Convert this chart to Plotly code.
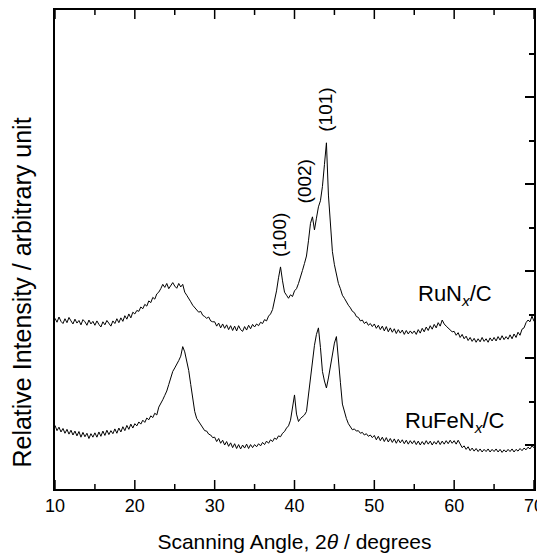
import numpy as np
import plotly.graph_objects as go

# Scan grid (2theta, degrees), 0.25 deg step from 10 to 70
two_theta = np.round(np.arange(10.0, 70.0001, 0.25), 2).tolist()

# RuNx/C (upper pattern, offset)
runx_c = [
    3.92, 3.83, 3.95, 3.85, 3.80, 3.91, 3.82, 3.94, 3.86, 3.79, 3.90, 3.81, 3.87, 3.77, 3.89, 3.84, 3.76, 3.88, 3.79, 3.85,
    3.76, 3.86, 3.78, 3.72, 3.84, 3.77, 3.87, 3.79, 3.74, 3.86, 3.80, 3.91, 3.82, 3.93, 3.85, 3.98, 3.90, 4.02, 3.93, 4.06,
    4.02, 4.10, 4.08, 4.18, 4.14, 4.24, 4.20, 4.32, 4.28, 4.40, 4.36, 4.48, 4.52, 4.60, 4.70, 4.63, 4.72, 4.60, 4.68, 4.74,
    4.66, 4.61, 4.72, 4.64, 4.70, 4.52, 4.45, 4.36, 4.30, 4.22, 4.17, 4.12, 4.06, 4.08, 3.99, 3.96, 3.92, 3.95, 3.86, 3.84,
    3.84, 3.74, 3.81, 3.70, 3.79, 3.69, 3.77, 3.66, 3.75, 3.64, 3.74, 3.63, 3.75, 3.66, 3.62, 3.73, 3.65, 3.76, 3.68, 3.78,
    3.72, 3.79, 3.75, 3.83, 3.80, 3.89, 3.86, 3.97, 4.02, 4.12, 4.30, 4.55, 4.85, 5.10, 4.78, 4.52, 4.45, 4.38, 4.46, 4.42,
    4.55, 4.60, 4.72, 4.85, 5.02, 5.18, 5.35, 5.70, 6.10, 6.25, 5.95, 6.22, 6.48, 6.62, 6.95, 7.45, 7.95, 6.75, 5.95, 5.45,
    5.15, 4.95, 4.72, 4.60, 4.45, 4.38, 4.28, 4.22, 4.16, 4.08, 4.05, 3.96, 3.94, 3.86, 3.88, 3.80, 3.84, 3.76, 3.80, 3.73,
    3.79, 3.69, 3.76, 3.66, 3.74, 3.63, 3.73, 3.61, 3.70, 3.60, 3.68, 3.57, 3.66, 3.58, 3.65, 3.55, 3.64, 3.56, 3.63, 3.57,
    3.63, 3.55, 3.66, 3.58, 3.69, 3.61, 3.72, 3.64, 3.75, 3.67, 3.78, 3.70, 3.82, 3.74, 3.88, 3.79, 3.74, 3.69, 3.66, 3.61,
    3.62, 3.53, 3.59, 3.48, 3.55, 3.45, 3.51, 3.41, 3.48, 3.39, 3.46, 3.37, 3.45, 3.38, 3.48, 3.39, 3.45, 3.37, 3.47, 3.40,
    3.48, 3.40, 3.50, 3.42, 3.52, 3.43, 3.50, 3.44, 3.54, 3.45, 3.56, 3.48, 3.60, 3.53, 3.67, 3.70, 3.82, 3.88, 3.84, 3.97,
    3.85,
]

# RuFeNx/C (lower pattern)
rufenx_c = [
    1.46, 1.34, 1.42, 1.31, 1.39, 1.28, 1.37, 1.26, 1.35, 1.24, 1.33, 1.22, 1.32, 1.19, 1.30, 1.20, 1.28, 1.16, 1.27, 1.19,
    1.29, 1.19, 1.31, 1.21, 1.33, 1.23, 1.35, 1.25, 1.34, 1.27, 1.38, 1.28, 1.40, 1.31, 1.43, 1.34, 1.46, 1.37, 1.49, 1.40,
    1.50, 1.45, 1.54, 1.49, 1.58, 1.53, 1.63, 1.59, 1.68, 1.64, 1.74, 1.70, 1.88, 1.95, 2.05, 2.15, 2.25, 2.40, 2.55, 2.70,
    2.78, 2.85, 2.95, 3.05, 3.27, 3.15, 2.95, 2.72, 2.40, 2.10, 1.78, 1.62, 1.55, 1.46, 1.42, 1.34, 1.33, 1.26, 1.24, 1.18,
    1.19, 1.09, 1.16, 1.05, 1.12, 1.01, 1.09, 0.98, 1.06, 0.95, 1.04, 0.93, 1.02, 0.92, 1.01, 0.94, 1.03, 0.93, 1.02, 0.95,
    1.02, 0.97, 1.04, 0.99, 1.07, 1.02, 1.10, 1.05, 1.13, 1.09, 1.17, 1.14, 1.22, 1.20, 1.28, 1.32, 1.40, 1.45, 1.58, 1.85,
    2.16, 1.72, 1.55, 1.62, 1.66, 1.70, 1.78, 2.15, 2.55, 2.95, 3.30, 3.55, 3.70, 3.25, 2.70, 2.48, 2.32, 2.55, 2.80, 3.05,
    3.35, 3.50, 3.05, 2.45, 1.95, 1.75, 1.62, 1.50, 1.42, 1.36, 1.38, 1.33, 1.34, 1.28, 1.30, 1.24, 1.27, 1.21, 1.24, 1.18,
    1.23, 1.13, 1.21, 1.11, 1.19, 1.09, 1.18, 1.08, 1.16, 1.07, 1.15, 1.05, 1.14, 1.06, 1.13, 1.04, 1.12, 1.03, 1.11, 1.04,
    1.11, 1.02, 1.10, 1.01, 1.09, 1.02, 1.11, 1.03, 1.10, 1.01, 1.09, 1.03, 1.11, 1.02, 1.10, 1.03, 1.11, 1.04, 1.12, 1.05,
    1.11, 1.03, 1.12, 1.02, 0.95, 0.99, 0.91, 0.97, 0.88, 0.94, 0.87, 0.93, 0.86, 0.92, 0.85, 0.91, 0.86, 0.92, 0.85, 0.91,
    0.86, 0.92, 0.85, 0.91, 0.84, 0.90, 0.85, 0.91, 0.86, 0.92, 0.85, 0.91, 0.87, 0.93, 0.88, 0.94, 0.90, 0.96, 0.92, 0.99,
    0.95,
]

peak_labels = ["(100)", "(002)", "(101)"]
peak_x = [38.1, 41.3, 43.95]
peak_y = [5.84, 7.06, 8.71]

series_labels = ["RuN<sub><i>x</i></sub>/C", "RuFeN<sub><i>x</i></sub>/C"]
series_label_x = [60.1, 60.1]
series_label_y = [4.45, 1.55]

x_major_ticks = [10, 20, 30, 40, 50, 60, 70]
x_minor_ticks = [15, 25, 35, 45, 55, 65]
x_title = "Scanning Angle, 2<i>θ</i> / degrees"
y_title = "Relative Intensity / arbitrary unit"

FONT = "Liberation Sans, Arial, Helvetica, sans-serif"

fig = go.Figure()
fig.add_trace(go.Scatter(x=two_theta, y=runx_c, mode="lines",
                         line=dict(color="black", width=1), showlegend=False))
fig.add_trace(go.Scatter(x=two_theta, y=rufenx_c, mode="lines",
                         line=dict(color="black", width=1), showlegend=False))

for t, x, y in zip(peak_labels, peak_x, peak_y):
    fig.add_annotation(x=x, y=y, text=t, textangle=-90, showarrow=False,
                       font=dict(size=19, color="black", family=FONT))
for t, x, y in zip(series_labels, series_label_x, series_label_y):
    fig.add_annotation(x=x, y=y, text=t, showarrow=False,
                       font=dict(size=22, color="black", family=FONT))

# y-axis title on the left (ticks are on the right side only)
fig.add_annotation(xref="paper", yref="paper", x=-0.069, y=0.41, text=y_title,
                   textangle=-90, showarrow=False, xanchor="center", yanchor="middle",
                   font=dict(size=25, color="black", family=FONT))

# inward x tick marks on the bottom and top frame, placed at the axis tick values
for vals, length in ((x_major_ticks, 9), (x_minor_ticks, 5)):
    for v in vals:
        for anchor, sign in ((0, 1), (1, -1)):
            fig.add_shape(type="line", xref="x", yref="paper", x0=v, x1=v,
                          ysizemode="pixel", yanchor=anchor, y0=0, y1=sign * length,
                          line=dict(color="black", width=1.5), layer="above")

# page body has an 8px margin, so the figure is sized/margined to compensate
fig.update_layout(
    template="none",
    width=537, height=545,
    margin=dict(l=47, r=11, t=2, b=64),
    paper_bgcolor="white", plot_bgcolor="white",
    font=dict(family=FONT, color="black", size=18),
    showlegend=False,
    xaxis=dict(
        range=[10, 70], tickmode="array", tickvals=x_major_ticks,
        ticks="", showline=True, linecolor="black", linewidth=1.5, mirror=True,
        showgrid=False, zeroline=False,
        tickfont=dict(size=18),
        title=dict(text=x_title, font=dict(size=21), standoff=31),
        automargin=False,
    ),
    yaxis=dict(
        range=[0, 11], side="right",
        tickmode="linear", tick0=1, dtick=2,
        ticks="inside", ticklen=9, tickwidth=2, tickcolor="black",
        minor=dict(dtick=1, ticks="inside", ticklen=5, tickwidth=2, tickcolor="black"),
        showticklabels=False,
        showline=True, linecolor="black", linewidth=1.5, mirror=True,
        showgrid=False, zeroline=False, automargin=False,
    ),
)

fig.write_html("out.html")
